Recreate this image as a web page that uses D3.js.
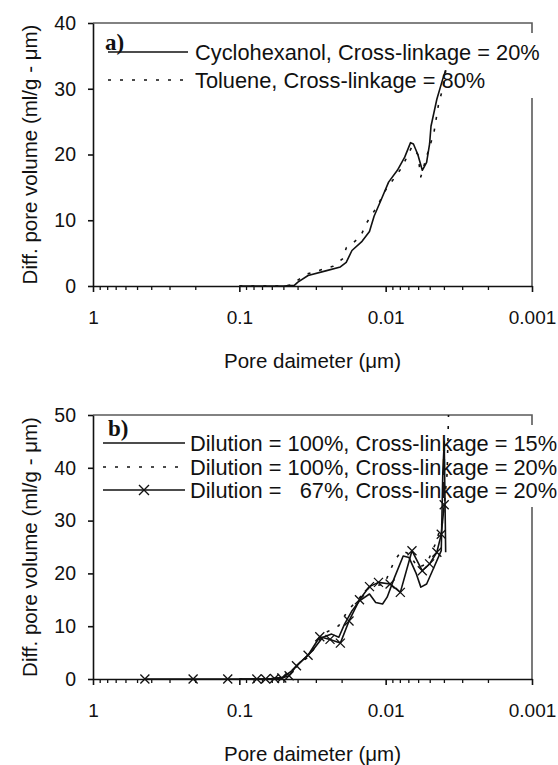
<!DOCTYPE html>
<html>
<head>
<meta charset="utf-8">
<script src="https://cdn.jsdelivr.net/npm/d3@7"></script>
<style>
    body { margin: 0; background: #fff; }
    svg { display: block; }
    text { font-family: "Liberation Sans", Arial, sans-serif; fill: #111; }
</style>
</head>
<body>
<div id="chart"></div>
<script>
// x axis (pore diameter, um) - log, reversed
const xTickValues = [1, 0.1, 0.01, 0.001];
const xTickLabels = ['1', '0.1', '0.01', '0.001'];
const panelAYTicks = [0, 10, 20, 30, 40];
const panelBYTicks = [0, 10, 20, 30, 40, 50];

// panel a
const cyclohexanolDiameter = [0.1, 0.0794, 0.0631, 0.0501, 0.0421, 0.0398, 0.0339, 0.0257, 0.0204, 0.0186, 0.0170, 0.0145, 0.0129, 0.0120, 0.0107, 0.00955, 0.00832, 0.00741, 0.00676, 0.00646, 0.00603, 0.00562, 0.00525, 0.00501, 0.00490, 0.00447, 0.00407, 0.00389];
const cyclohexanolVolume = [0, 0, 0, 0, 0.1, 0.6, 1.6, 2.3, 2.9, 3.6, 5.4, 6.8, 8.3, 10.6, 13.2, 15.8, 17.6, 19.6, 21.8, 21.6, 20.0, 17.6, 18.8, 21.6, 24.3, 28.4, 31.5, 32.8];
const tolueneDiameter = [0.1, 0.0794, 0.0631, 0.0501, 0.0431, 0.0398, 0.0347, 0.0282, 0.0229, 0.0195, 0.0186, 0.0166, 0.0148, 0.0135, 0.0115, 0.0100, 0.00776, 0.00661, 0.00603, 0.00575, 0.00525, 0.00468, 0.00437, 0.00398, 0.00389];
const tolueneVolume = [0, 0, 0, 0, 0.2, 0.9, 1.8, 2.4, 3.0, 4.2, 5.8, 6.6, 7.6, 9.6, 12.0, 14.6, 18.0, 21.2, 20.0, 16.6, 19.7, 23.3, 27.4, 31.0, 32.8];

// panel b
const dil100cl15Diameter = [0.1, 0.0794, 0.0631, 0.0501, 0.0437, 0.0372, 0.0316, 0.0269, 0.0234, 0.0209, 0.0191, 0.0170, 0.0151, 0.0129, 0.0117, 0.0105, 0.00977, 0.00871, 0.00759, 0.00692, 0.00617, 0.00575, 0.00525, 0.00479, 0.00417, 0.00407, 0.00398, 0.00389];
const dil100cl15Volume = [0, 0, 0, 0.3, 1.6, 3.5, 5.4, 7.9, 8.5, 7.9, 10.4, 12.9, 14.8, 16.1, 14.5, 14.2, 15.5, 19.2, 23.3, 23.0, 19.9, 17.4, 18.0, 20.5, 24.3, 39.0, 45.0, 24.0];
const dil100cl20Diameter = [0.1, 0.0794, 0.0631, 0.0501, 0.0412, 0.0331, 0.0269, 0.0209, 0.0182, 0.0158, 0.0129, 0.0102, 0.00871, 0.00776, 0.00692, 0.00603, 0.00525, 0.00457, 0.00407, 0.00380, 0.00372];
const dil100cl20Volume = [0, 0, 0, 0.3, 2.2, 4.4, 8.5, 10.1, 12.9, 14.8, 17.4, 18.0, 22.4, 24.3, 23.7, 21.1, 21.8, 25.6, 30.0, 39.0, 50.0];
const dil67cl20Diameter = [0.442, 0.207, 0.120, 0.0759, 0.0661, 0.0575, 0.0513, 0.0457, 0.0407, 0.0339, 0.0282, 0.0240, 0.0204, 0.0178, 0.0151, 0.0129, 0.0112, 0.00933, 0.00794, 0.00661, 0.00562, 0.00501, 0.00447, 0.00417, 0.00398];
const dil67cl20Volume = [0, 0, 0, 0, 0, 0.1, 0.2, 0.6, 2.5, 4.5, 8.0, 7.5, 6.8, 11.0, 15.0, 17.5, 18.3, 18.0, 16.4, 24.3, 20.5, 21.8, 24.0, 27.4, 33.0];

const W = 558, H = 765;
const svg = d3.select('#chart').append('svg').attr('width', W).attr('height', H);

const x = d3.scaleLog().domain([1, 0.001]).range([93, 532]);

function zip(ds, vs) { return ds.map((d, i) => ({ d, v: vs[i] })); }

function crossPath(cx, cy, r) {
    return `M${cx - r},${cy - r}L${cx + r},${cy + r}M${cx - r},${cy + r}L${cx + r},${cy - r}`;
}

function drawPanel(cfg) {
    const { y, yTicks, tag, series, legend } = cfg;
    const [bottom, top] = y.range();
    const g = svg.append('g');

    // frame (top + right)
    g.append('path')
        .attr('d', `M${x(1)},${top}H${x(0.001)}V${bottom}`)
        .attr('fill', 'none').attr('stroke', '#5a5a5a').attr('stroke-width', 1.6);

    // legend background, text and samples
    g.append('rect')
        .attr('x', 100).attr('y', legend.boxTop)
        .attr('width', W - 100).attr('height', legend.boxBottom - legend.boxTop)
        .attr('fill', '#fff');

    series.forEach((s, i) => {
        const ly = legend.rows[i];
        g.append('line')
            .attr('x1', legend.x1).attr('x2', legend.x2).attr('y1', ly).attr('y2', ly)
            .attr('stroke', '#111').attr('stroke-width', 1.6)
            .attr('stroke-dasharray', s.dash || null);
        if (s.marker) {
            g.append('path').attr('d', crossPath((legend.x1 + legend.x2) / 2, ly, 5))
                .attr('stroke', '#111').attr('stroke-width', 1.4);
        }
        g.append('text')
            .attr('x', legend.textX).attr('y', ly + 7.5)
            .attr('font-size', 21.8)
            .attr('xml:space', 'preserve')
            .style('white-space', 'pre')
            .text(s.name);
    });

    g.append('text')
        .attr('x', legend.tagX).attr('y', legend.tagY)
        .style('font-family', '"Liberation Serif", "Times New Roman", serif')
        .attr('font-weight', 'bold').attr('font-size', 23)
        .text(tag);

    // data
    const line = d3.line().x(p => x(p.d)).y(p => y(p.v));
    series.forEach(s => {
        const pts = zip(s.diameter, s.volume);
        g.append('path').datum(pts)
            .attr('d', line)
            .attr('fill', 'none').attr('stroke', '#111').attr('stroke-width', 1.6)
            .attr('stroke-linejoin', 'round')
            .attr('stroke-dasharray', s.dash || null);
        if (s.marker) {
            g.selectAll(null).data(pts).enter().append('path')
                .attr('d', p => crossPath(x(p.d), y(p.v), 4.5))
                .attr('stroke', '#111').attr('stroke-width', 1.3);
        }
    });

    // minor x ticks (2..9 per decade)
    const minor = [];
    [1, 0.1, 0.01].forEach(dec => {
        for (let k = 2; k <= 9; k++) minor.push(dec * k / 10);
    });
    g.append('g').attr('transform', `translate(0,${bottom})`)
        .call(d3.axisBottom(x).tickValues(minor).tickSize(4).tickFormat(''))
        .call(a => a.select('.domain').remove())
        .selectAll('line').attr('stroke', '#111').attr('stroke-width', 1.3);

    // major x axis
    const xAxis = g.append('g').attr('transform', `translate(0,${bottom})`)
        .call(d3.axisBottom(x).tickValues(xTickValues).tickSizeInner(6).tickSizeOuter(0)
            .tickPadding(19).tickFormat((d, i) => xTickLabels[i]));
    xAxis.select('.domain').attr('stroke', '#111').attr('stroke-width', 1.6);
    xAxis.selectAll('line').attr('stroke', '#111').attr('stroke-width', 1.6);
    xAxis.selectAll('text').attr('font-size', 19)
        .style('font-family', '"Liberation Sans", Arial, sans-serif');

    // y axis
    const yAxis = g.append('g').attr('transform', `translate(${x(1)},0)`)
        .call(d3.axisLeft(y).tickValues(yTicks).tickSizeInner(5).tickSizeOuter(0).tickPadding(12));
    yAxis.select('.domain').attr('stroke', '#111').attr('stroke-width', 1.6);
    yAxis.selectAll('line').attr('stroke', '#111').attr('stroke-width', 1.6);
    yAxis.selectAll('text').attr('font-size', 19.5)
        .style('font-family', '"Liberation Sans", Arial, sans-serif');

    // titles
    g.append('text')
        .attr('transform', `translate(37,${(top + bottom) / 2}) rotate(-90)`)
        .attr('text-anchor', 'middle').attr('font-size', 20.5)
        .text('Diff. pore volume (ml/g - \u03bcm)');
    g.append('text')
        .attr('x', (x(1) + x(0.001)) / 2).attr('y', bottom + 82)
        .attr('text-anchor', 'middle').attr('font-size', 20.5)
        .text('Pore daimeter (\u03bcm)');
}

drawPanel({
    y: d3.scaleLinear().domain([0, 40]).range([286, 23]),
    yTicks: panelAYTicks,
    tag: 'a)',
    legend: { boxTop: 33, boxBottom: 98, rows: [52, 80], x1: 108, x2: 188, textX: 195, tagX: 105, tagY: 50 },
    series: [
        { name: 'Cyclohexanol, Cross-linkage = 20%', diameter: cyclohexanolDiameter, volume: cyclohexanolVolume },
        { name: 'Toluene, Cross-linkage = 80%', diameter: tolueneDiameter, volume: tolueneVolume, dash: '3,9' }
    ]
});

drawPanel({
    y: d3.scaleLinear().domain([0, 50]).range([679, 415]),
    yTicks: panelBYTicks,
    tag: 'b)',
    legend: { boxTop: 425, boxBottom: 507, rows: [443, 467, 490], x1: 103, x2: 185, textX: 190, tagX: 108, tagY: 436 },
    series: [
        { name: 'Dilution = 100%, Cross-linkage = 15%', diameter: dil100cl15Diameter, volume: dil100cl15Volume },
        { name: 'Dilution = 100%, Cross-linkage = 20%', diameter: dil100cl20Diameter, volume: dil100cl20Volume, dash: '3,9' },
        { name: 'Dilution =   67%, Cross-linkage = 20%', diameter: dil67cl20Diameter, volume: dil67cl20Volume, marker: true }
    ]
});
</script>
</body>
</html>
